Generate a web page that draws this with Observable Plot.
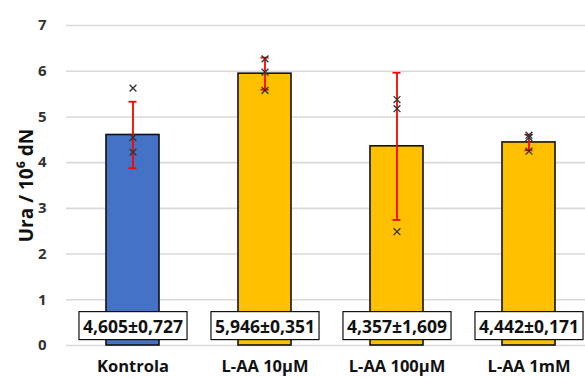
<!DOCTYPE html>
<html>
<head>
<meta charset="utf-8">
<script src="https://cdn.jsdelivr.net/npm/d3@7"></script>
<script src="https://cdn.jsdelivr.net/npm/@observablehq/plot@0.6"></script>
<style>
  html, body { margin: 0; padding: 0; background: #fff; }
  #chart svg { display: block; }
</style>
</head>
<body>
<div id="chart"></div>
<script>
const categories = ["Kontrola", "L-AA 10μM", "L-AA 100μM", "L-AA 1mM"];
const means = [4.605, 5.946, 4.357, 4.442];
const sds = [0.727, 0.351, 1.609, 0.171];
const valueLabels = ["4,605±0,727", "5,946±0,351", "4,357±1,609", "4,442±0,171"];
const yTicks = [0, 1, 2, 3, 4, 5, 6, 7];

const pointCategories = ["Kontrola", "Kontrola", "Kontrola",
  "L-AA 10μM", "L-AA 10μM", "L-AA 10μM",
  "L-AA 100μM", "L-AA 100μM", "L-AA 100μM",
  "L-AA 1mM", "L-AA 1mM", "L-AA 1mM"];
const pointValues = [5.63, 4.55, 4.23,
  6.27, 5.98, 5.58,
  5.38, 5.18, 2.49,
  4.60, 4.55, 4.25];

const bars = categories.map((c, i) => ({
  category: c, mean: means[i], lo: means[i] - sds[i], hi: means[i] + sds[i], label: valueLabels[i]
}));
const points = pointCategories.map((c, i) => ({category: c, value: pointValues[i]}));

const BLUE = "#4472C4", GOLD = "#FFC000";
const W = 585, H = 378;

const chart = Plot.plot({
  width: W,
  height: H,
  marginLeft: 66,
  marginRight: 0,
  marginTop: 25,
  marginBottom: 33,
  style: {fontFamily: "'Open Sans', sans-serif", background: "#fff"},
  x: {domain: categories, range: [66, 594], paddingInner: 0.6, paddingOuter: 0.3},
  y: {domain: [0, 7]},
  marks: [
    Plot.gridY(yTicks, {stroke: "#d9d9d9", strokeOpacity: 1, strokeWidth: 1.6}),
    Plot.barY(bars, {
      x: "category", y: "mean",
      fill: d => d.category === "Kontrola" ? BLUE : GOLD,
      stroke: "#111", strokeWidth: 1.6
    }),
    Plot.ruleX(bars, {x: "category", y1: "lo", y2: "hi", stroke: "#ff0000", strokeWidth: 1.8}),
    Plot.tickY(bars, {x: "category", y: "lo", stroke: "#ff0000", strokeWidth: 1.8, insetLeft: 22.5, insetRight: 22.5}),
    Plot.tickY(bars, {x: "category", y: "hi", stroke: "#ff0000", strokeWidth: 1.8, insetLeft: 22.5, insetRight: 22.5}),
    Plot.dot(points, {x: "category", y: "value", symbol: "times", r: 3.2, stroke: "#333", strokeWidth: 1.3}),
    Plot.text(bars, {
      x: "category", text: "label", frameAnchor: "bottom", dy: -18.5, lineAnchor: "middle",
      fontSize: 17.5, fontWeight: "bold", fill: "#111", className: "vlabel"
    }),
    Plot.axisY({
      ticks: yTicks, tickSize: 0, tickPadding: 20, tickFormat: d => String(d),
      fontSize: 15, fontWeight: "bold", color: "#333",
      label: "Ura / 10⁶ dN", labelAnchor: "center", labelArrow: "none", labelOffset: 47
    }),
    Plot.axisX({tickSize: 0, tickPadding: 15, fontSize: 16.5, fontWeight: "bold", color: "#111", label: null})
  ]
});

document.getElementById("chart").appendChild(chart);

// y-axis title style
const yLab = chart.querySelector('g[aria-label="y-axis label"] text');
if (yLab) { yLab.setAttribute("font-size", "19"); yLab.style.fontSize = "19px"; yLab.setAttribute("fill", "#111"); }

// white boxes with border behind value labels
chart.querySelectorAll("g.vlabel text").forEach(t => {
  const b = t.getBBox();
  const padX = 4, padY = 2;
  const r = document.createElementNS("http://www.w3.org/2000/svg", "rect");
  r.setAttribute("x", b.x - padX);
  r.setAttribute("y", b.y - padY);
  r.setAttribute("width", b.width + 2 * padX);
  r.setAttribute("height", b.height + 2 * padY);
  r.setAttribute("fill", "#fff");
  r.setAttribute("stroke", "#111");
  r.setAttribute("stroke-width", "1.2");
  const tr = t.getAttribute("transform");
  if (tr) r.setAttribute("transform", tr);
  t.parentNode.insertBefore(r, t);
});
</script>
</body>
</html>
